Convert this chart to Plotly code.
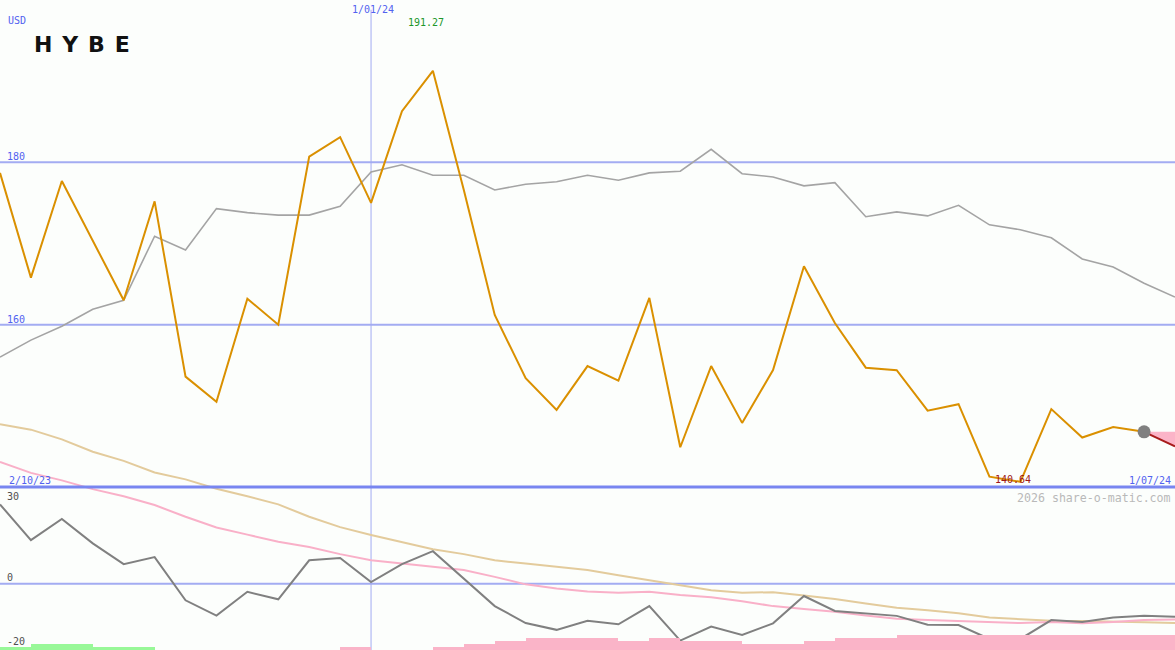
import plotly.graph_objects as go

# ---------------- data ----------------
start_label = "2/10/23"
end_label = "1/07/24"
marker_label = "1/01/24"
marker_index = 12

price = [178.7, 165.8, 177.7, 170.4, 163.0, 175.2, 153.6, 150.5, 163.2, 160.0,
         180.7, 183.1, 175.0, 186.3, 191.27, 176.6, 161.2, 153.4, 149.5, 154.9,
         153.1, 163.3, 144.9, 154.9, 147.9, 154.4, 167.2, 160.2, 154.7, 154.4,
         149.4, 150.2, 141.27, 140.64, 149.6, 146.1, 147.4, 146.8]
forecast_end = 145.0

price_ma = [156.0, 158.1, 159.8, 161.9, 163.0, 170.9, 169.2, 174.3, 173.8, 173.5,
            173.5, 174.6, 178.8, 179.7, 178.4, 178.4, 176.6, 177.3, 177.6, 178.4,
            177.8, 178.7, 178.9, 181.6, 178.6, 178.2, 177.1, 177.5, 173.3, 173.9,
            173.4, 174.7, 172.3, 171.7, 170.7, 168.1, 167.1, 165.1, 163.4]

osc = [24.4, 13.4, 19.9, 12.4, 6.0, 8.2, -5.1, -9.8, -2.5, -4.8,
       7.2, 7.9, 0.5, 6.0, 10.0, 1.5, -6.9, -12.1, -14.2, -11.4,
       -12.5, -6.9, -17.5, -13.2, -15.8, -12.2, -3.8, -8.4, -9.2, -9.9,
       -12.6, -12.7, -17.0, -17.0, -11.2, -11.8, -10.4, -9.9, -10.2]

osc_slow = [49.1, 47.4, 44.4, 40.6, 37.8, 34.2, 32.1, 29.2, 26.9, 24.4,
            20.6, 17.4, 15.0, 12.8, 10.6, 9.1, 7.2, 6.2, 5.2, 4.2,
            2.6, 1.1, -0.6, -2.0, -2.8, -2.6, -3.6, -4.7, -6.1, -7.4,
            -8.2, -9.1, -10.4, -11.0, -11.4, -11.5, -11.8, -11.9, -12.1]

osc_signal = [37.5, 34.1, 31.8, 29.1, 26.9, 24.2, 20.6, 17.3, 15.1, 12.9,
              11.3, 9.1, 7.2, 6.2, 5.2, 4.2, 2.1, -0.2, -1.5, -2.4,
              -2.8, -2.5, -3.5, -4.2, -5.4, -6.9, -7.8, -8.6, -9.8, -10.8,
              -11.2, -11.5, -11.8, -12.1, -11.8, -12.2, -11.8, -11.2, -11.0]

bull_bars = [1, 2, 2, 1, 1, 0, 0, 0, 0, 0, 0, 0, 0, 0, 0, 0, 0, 0, 0,
             0, 0, 0, 0, 0, 0, 0, 0, 0, 0, 0, 0, 0, 0, 0, 0, 0, 0, 0]
bear_bars = [0, 0, 0, 0, 0, 0, 0, 0, 0, 0, 0, 1, 0, 0, 1, 2, 3, 4, 4,
             4, 3, 4, 3, 3, 2, 2, 3, 4, 4, 5, 5, 5, 5, 5, 5, 5, 5, 5]

price_grid = [180, 160]
price_floor = 140
osc_ticks = [30, 0, -20]
max_label = "191.27"
min_label = "140.64"

# ---------------- styles ----------------
BLUE_TXT = "#5262f0"
GRID = "#a3acf2"
BORDER = "#7886f0"
MONO = "DejaVu Sans Mono"

n = len(price_ma)
xs = list(range(n))
xp = list(range(len(price)))

fig = go.Figure()

def nz(v):
    return [b if b else None for b in v]

# bars (bottom)
fig.add_trace(go.Bar(x=[i + 0.5 for i in range(len(bull_bars))], y=nz(bull_bars), width=1,
                     marker=dict(color="#98f898", line=dict(width=0)), yaxis="y3",
                     hoverinfo="skip"))
fig.add_trace(go.Bar(x=[i + 0.5 for i in range(len(bear_bars))], y=nz(bear_bars), width=1,
                     marker=dict(color="#fab4c8", line=dict(width=0)), yaxis="y3",
                     hoverinfo="skip"))

# lower indicator lines
fig.add_trace(go.Scatter(x=xs, y=osc_slow, mode="lines", yaxis="y2",
                         line=dict(color="#e3cb9c", width=2)))
fig.add_trace(go.Scatter(x=xs, y=osc_signal, mode="lines", yaxis="y2",
                         line=dict(color="#f9b0c8", width=2)))
fig.add_trace(go.Scatter(x=xs, y=osc, mode="lines", yaxis="y2",
                         line=dict(color="#808080", width=2)))

# price panel
fig.add_trace(go.Scatter(x=xs, y=price_ma, mode="lines",
                         line=dict(color="#a4a4a4", width=1.6)))
last = len(price) - 1
fig.add_trace(go.Scatter(x=[last, last + 1], y=[price[-1], price[-1]], mode="lines",
                         line=dict(width=0, color="rgba(0,0,0,0)")))
fig.add_trace(go.Scatter(x=[last, last + 1], y=[price[-1], forecast_end], mode="lines",
                         fill="tonexty", fillcolor="#fbb4c8",
                         line=dict(color="#a81c1c", width=2)))
fig.add_trace(go.Scatter(x=xp, y=price, mode="lines",
                         line=dict(color="#da9000", width=2)))
fig.add_trace(go.Scatter(x=[last], y=[price[-1]], mode="markers",
                         marker=dict(color="#808080", size=13)))

shapes = []
for g in price_grid:
    shapes.append(dict(type="line", xref="paper", x0=0, x1=1, yref="y", y0=g, y1=g,
                       line=dict(color=GRID, width=2), layer="below"))
shapes.append(dict(type="line", xref="paper", x0=0, x1=1, yref="y2", y0=0, y1=0,
                   line=dict(color=GRID, width=2), layer="below"))
shapes.append(dict(type="line", xref="x", x0=marker_index, x1=marker_index, yref="paper",
                   y0=0, y1=0.985, line=dict(color=GRID, width=1), layer="below"))
shapes.append(dict(type="line", xref="paper", x0=0, x1=1, yref="y", y0=price_floor,
                   y1=price_floor, line=dict(color=BORDER, width=3), layer="above"))

small = dict(family=MONO, size=10, color=BLUE_TXT)
ann = []
ann.append(dict(text="USD", xref="paper", yref="paper", x=0.005, y=0.968,
                xanchor="left", yanchor="middle", showarrow=False, font=small))
for g in price_grid:
    ann.append(dict(text=str(g), xref="paper", yref="y", x=0.004, y=g, xanchor="left",
                    yanchor="bottom", yshift=-2, showarrow=False, font=small))
ann.append(dict(text=start_label, xref="paper", yref="y", x=0.006, y=price_floor,
                xanchor="left", yanchor="bottom", yshift=-1, showarrow=False, font=small))
ann.append(dict(text=end_label, xref="paper", yref="y", x=0.998, y=price_floor,
                xanchor="right", yanchor="bottom", yshift=-1, showarrow=False, font=small))
ann.append(dict(text=marker_label, xref="x", yref="paper", x=marker_index, y=1.0,
                xanchor="center", yanchor="top", xshift=2, yshift=-2, showarrow=False,
                font=small))
ann.append(dict(text=max_label, xref="x", yref="paper", x=price.index(max(price)), y=0.966,
                xanchor="center", yanchor="middle", xshift=-7, showarrow=False,
                font=dict(family=MONO, size=10, color="#20962a")))
ann.append(dict(text=min_label, xref="x", yref="y", x=price.index(min(price)), y=price_floor,
                xanchor="center", yanchor="bottom", xshift=-7, showarrow=False,
                font=dict(family=MONO, size=10, color="#a01818")))
tick_pos = {30: ("top", -3), 0: ("bottom", -1), -20: ("bottom", 0)}
for t in osc_ticks:
    anc, sh = tick_pos[t]
    ann.append(dict(text=str(t), xref="paper", yref="y2", x=0.004, y=t, xanchor="left",
                    yanchor=anc, yshift=sh, showarrow=False,
                    font=dict(family=MONO, size=10, color="#505050")))
ann.append(dict(text="2026 share-o-matic.com", xref="paper", yref="y", x=0.998,
                y=price_floor, xanchor="right", yanchor="top", yshift=-2, showarrow=False,
                font=dict(family=MONO, size=11.6, color="#b9b9b9")))
ann.append(dict(text="H\u00a0\u200aY\u00a0\u200aB\u00a0\u200aE", xref="paper", yref="paper",
                x=0.027, y=0.931, xanchor="left", yanchor="middle", showarrow=False,
                font=dict(family="DejaVu Sans", size=22, color="#111111", weight="bold")))

fig.update_layout(
    width=1175, height=650,
    margin=dict(l=0, r=0, t=0, b=0),
    paper_bgcolor="#fcfefc", plot_bgcolor="#fcfefc",
    showlegend=False, barmode="overlay", bargap=0,
    xaxis=dict(range=[0, n - 1], visible=False),
    yaxis=dict(range=[119.92, 200], visible=False),
    yaxis2=dict(range=[-20.4, 179.6], overlaying="y", visible=False),
    yaxis3=dict(range=[0, 213], overlaying="y", visible=False),
    shapes=shapes, annotations=ann,
)

fig.write_html("out.html", config={"displayModeBar": False},
               post_script="document.body.style.margin='0';document.body.style.overflow='hidden';")
